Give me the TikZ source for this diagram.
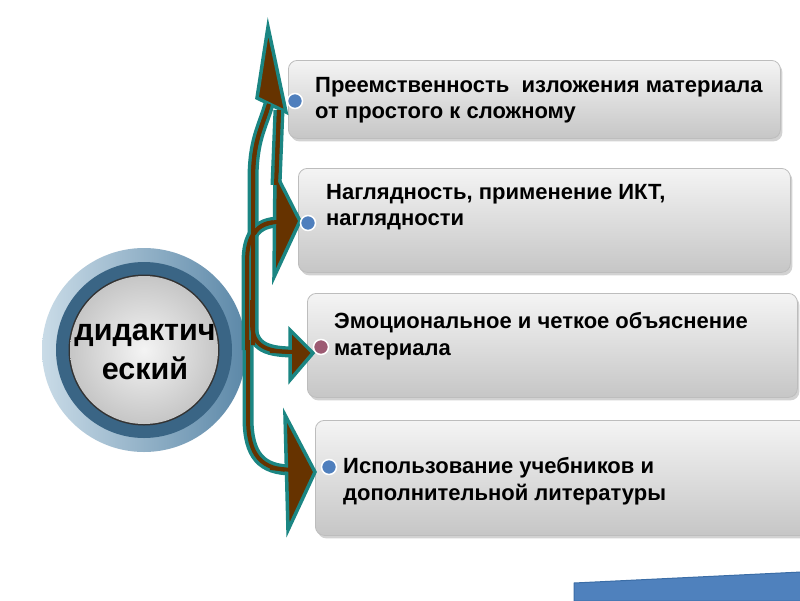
\documentclass[tikz,border=0pt]{standalone}
\usepackage{fontspec}
\setmainfont{Liberation Sans}
\usetikzlibrary{shadows}
\definecolor{tealA}{HTML}{1B8683}
\definecolor{brownA}{HTML}{663300}
\definecolor{boxtop}{HTML}{F4F4F4}
\definecolor{boxbot}{HTML}{C6C6C6}
\definecolor{boxedge}{HTML}{BDBDBD}
\definecolor{dotblue}{HTML}{4F7FBD}
\definecolor{dotmauve}{HTML}{9C5A72}
\definecolor{ringlight}{HTML}{C9DBE7}
\definecolor{ringdark}{HTML}{5C88A8}
\definecolor{ringband}{HTML}{3A6585}
\definecolor{bluebar}{HTML}{4F81BD}
\definecolor{bluebaredge}{HTML}{3B6DA6}
\tikzset{
  box/.style={draw=boxedge, line width=0.8pt, rounded corners=9pt, top color=boxtop, bottom color=boxbot,
    drop shadow={shadow xshift=2pt, shadow yshift=-3pt, opacity=0.35}, anchor=north west, inner sep=0pt},
  txt/.style={font=\fontsize{22}{26.5}\selectfont\bfseries, align=left, anchor=west, inner sep=0pt},
  dot/.style={circle, fill=#1, draw=white, line width=1.5pt, minimum size=15pt, inner sep=0pt},
  shaftout/.style={draw=tealA, line width=11pt, line cap=butt},
  shaftin/.style={draw=brownA, line width=4pt, line cap=butt},
  head/.style={draw=tealA, fill=brownA, line width=3.5pt, line join=miter},
}
\begin{document}
\begin{tikzpicture}[x=1pt,y=-1pt]
\useasboundingbox (0,0) rectangle (800,600);
\fill[white] (0,0) rectangle (800,600);

% central circle
\node[circle, minimum size=204pt, inner sep=0pt, shade, shading angle=-40, left color=ringlight, right color=ringdark] (c) at (144,350) {};
\fill[ringband] (c.center) circle (88);
\fill[black!80] (c.center) circle (75.5);
\shade[inner color=boxtop, outer color=boxbot] (c.center) circle (74);
\node[font=\fontsize{30.5}{39}\selectfont\bfseries, align=center, inner sep=0pt] (ct) at (145,352) {дидактич\\еский};

% boxes
\node[box, minimum width=492pt, minimum height=78pt] (b1) at (288,60) {};
\node[box, minimum width=492pt, minimum height=104pt] (b2) at (298,168) {};
\node[box, minimum width=490pt, minimum height=104pt] (b3) at (307,293) {};
\node[box, minimum width=500pt, minimum height=115pt] (b4) at (315,420) {};

\node[txt] (t1) at (315,100) {Преемственность\ \ изложения материала\\от простого к сложному};
\node[txt] (t2) at (326,207) {Наглядность, применение ИКТ,\\наглядности};
\node[txt] (t3) at (334,336) {Эмоциональное и четкое объяснение\\материала};
\node[txt] (t4) at (343,481) {Использование учебников и\\дополнительной литературы};

% arrow anchor points
\coordinate (s1) at (253,345);
\coordinate (s1b) at (276,185);
\coordinate (s2) at (247,350);
\coordinate (s3) at (252,300);
\coordinate (s4) at (248,340);
\coordinate (e1) at (269,104);
\coordinate (e1b) at (279,110);
\coordinate (e2) at (280,222);
\coordinate (e3) at (294,352);
\coordinate (e4) at (292,470);

% shafts
\foreach \s in {shaftout, shaftin}{
  \path[\s] (s1) -- (253,180) .. controls (253,140) and (262,128) .. (e1);
  \path[\s] (s1b) -- (e1b);
  \path[\s] (s2) -- (247,262) .. controls (247,236) and (256,222) .. (e2);
  \path[\s] (s3) -- (252,322) .. controls (252,344) and (262,352) .. (e3);
  \path[\s] (s4) -- (248,418) .. controls (248,456) and (262,470) .. (e4);
}
% heads
\draw[head] (268,27) -- (286,112) -- (257,98) -- cycle;
\draw[head] (300,221) -- (274,277) -- (275,172) -- cycle;
\draw[head] (313,353) -- (290,380) -- (290,330) -- cycle;
\draw[head] (315,472) -- (288,530) -- (285,415) -- cycle;
% re-cover shaft joins
\path[shaftin] (253,200) -- (253,180) .. controls (253,140) and (262,128) .. (e1);
\path[shaftin] (s1b) -- (e1b);
\path[shaftin] (254,234) .. controls (260,224) and (268,222) .. (e2);
\path[shaftin] (270,351) -- (e3);
\path[shaftin] (270,468) -- (e4);

% dots
\node[dot=dotblue] (d1) at (295,101) {};
\node[dot=dotblue] (d2) at (308,223) {};
\node[dot=dotmauve] (d3) at (321,347) {};
\node[dot=dotblue] (d4) at (329,467) {};

% blue bar at bottom
\filldraw[fill=bluebar, draw=bluebaredge, line width=1pt] (574,583) -- (801,572) -- (801,601) -- (574,601) -- cycle;
\end{tikzpicture}
\end{document}
